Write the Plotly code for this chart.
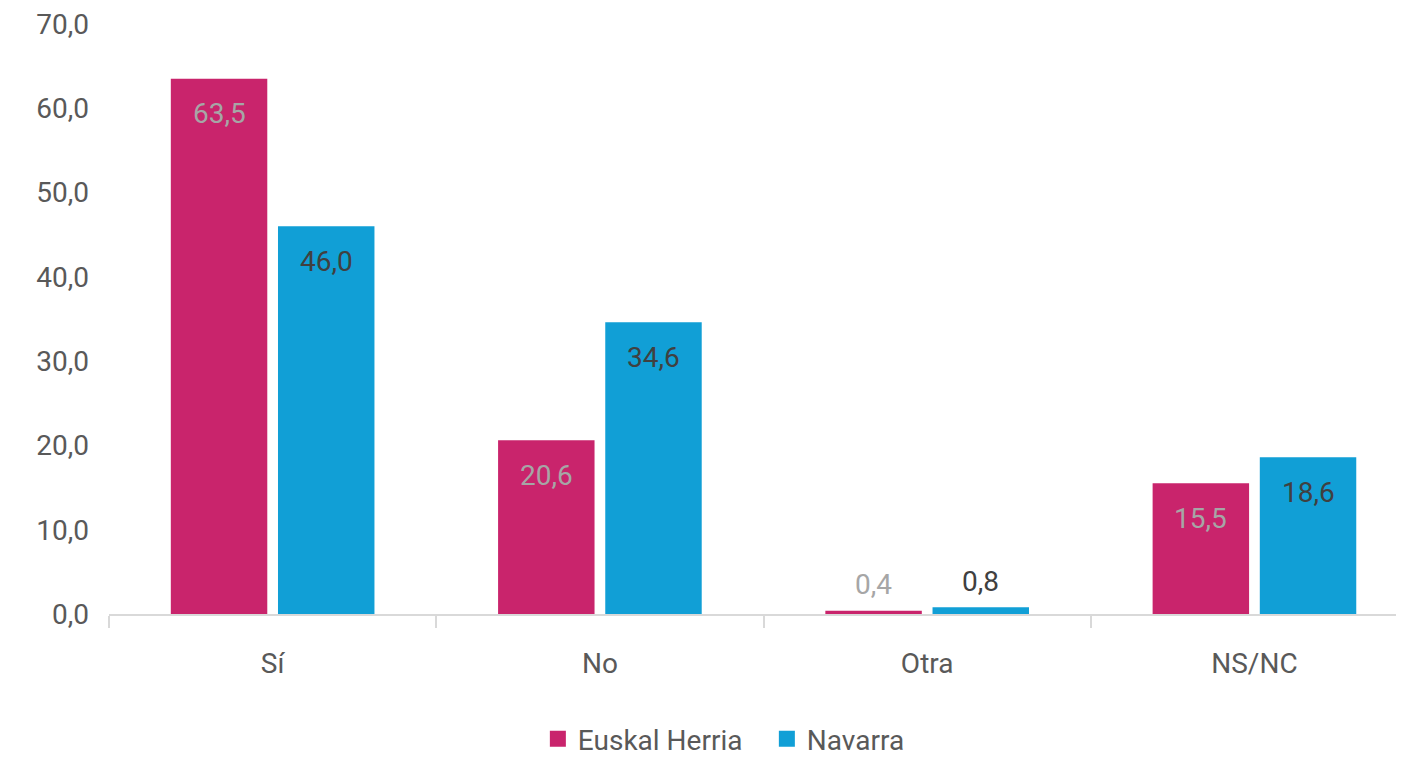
import plotly.graph_objects as go

# Data
categories = ["Sí", "No", "Otra", "NS/NC"]
euskal_herria = [63.5, 20.6, 0.4, 15.5]
navarra = [46.0, 34.6, 0.8, 18.6]

series = [
    ("Euskal Herria", euskal_herria, "#C9246C", "#A6A6A6"),
    ("Navarra", navarra, "#119FD6", "#404040"),
]

font = "Roboto"
fsize = 28
bargap = 0.345
bargroupgap = 0.1

fig = go.Figure()
for name, vals, color, _ in series:
    fig.add_trace(go.Bar(
        x=categories, y=vals, name=name,
        marker=dict(color=color, line=dict(width=0)),
        hoverinfo="x+y+name", showlegend=False,
    ))
    # legend-only marker so the swatch is a bigger square
    fig.add_trace(go.Scatter(
        x=[None], y=[None], name=name, mode="markers",
        marker=dict(symbol="square", size=20, color=color),
    ))

# value labels: inside near the top for big bars, just above for tiny ones
slot = (1 - bargap) / 2
annotations = []
for k, (name, vals, color, txtcolor) in enumerate(series):
    offset = (k - 0.5) * slot
    for i, v in enumerate(vals):
        annotations.append(dict(
            x=i + offset, y=v, xref="x", yref="y",
            text=f"{v:.1f}".replace(".", ","),
            showarrow=False, yanchor="middle",
            yshift=-35 if v > 5 else 26,
            font=dict(family=font, size=fsize, color=txtcolor),
        ))

# page body adds an 8px margin, so the figure is a bit smaller than the window
top, bottom = 16, 144
plot_h = 750 - top - bottom
fig.update_layout(
    width=1396, height=750,
    margin=dict(l=101, r=0, t=top, b=bottom, autoexpand=False),
    paper_bgcolor="white", plot_bgcolor="white",
    barmode="group", bargap=bargap, bargroupgap=bargroupgap,
    separators=",.",
    font=dict(family=font, size=fsize, color="#595959"),
    annotations=annotations,
    showlegend=True,
    legend=dict(
        orientation="h",
        x=0.508, xanchor="center",
        y=-(bottom + 6) / plot_h, yanchor="bottom",
        font=dict(family=font, size=fsize, color="#595959"),
        itemwidth=30,
        entrywidth=184, entrywidthmode="pixels",
    ),
    xaxis=dict(
        type="category", automargin=False,
        range=[-0.5, 3.457],
        showline=True, linecolor="#D9D9D9", linewidth=2,
        ticks="outside", tickson="boundaries", ticklen=12,
        tickcolor="#D9D9D9", tickwidth=2,
        ticklabelstandoff=23,
        showgrid=False,
        tickfont=dict(family=font, size=fsize, color="#595959"),
    ),
    yaxis=dict(
        range=[0, 70], dtick=10, tickformat=".1f", automargin=False,
        showgrid=False, zeroline=False, showline=False,
        ticklabelstandoff=19, ticklabeloverflow="allow",
        tickfont=dict(family=font, size=fsize, color="#595959"),
    ),
)

fig.write_html("out.html")
